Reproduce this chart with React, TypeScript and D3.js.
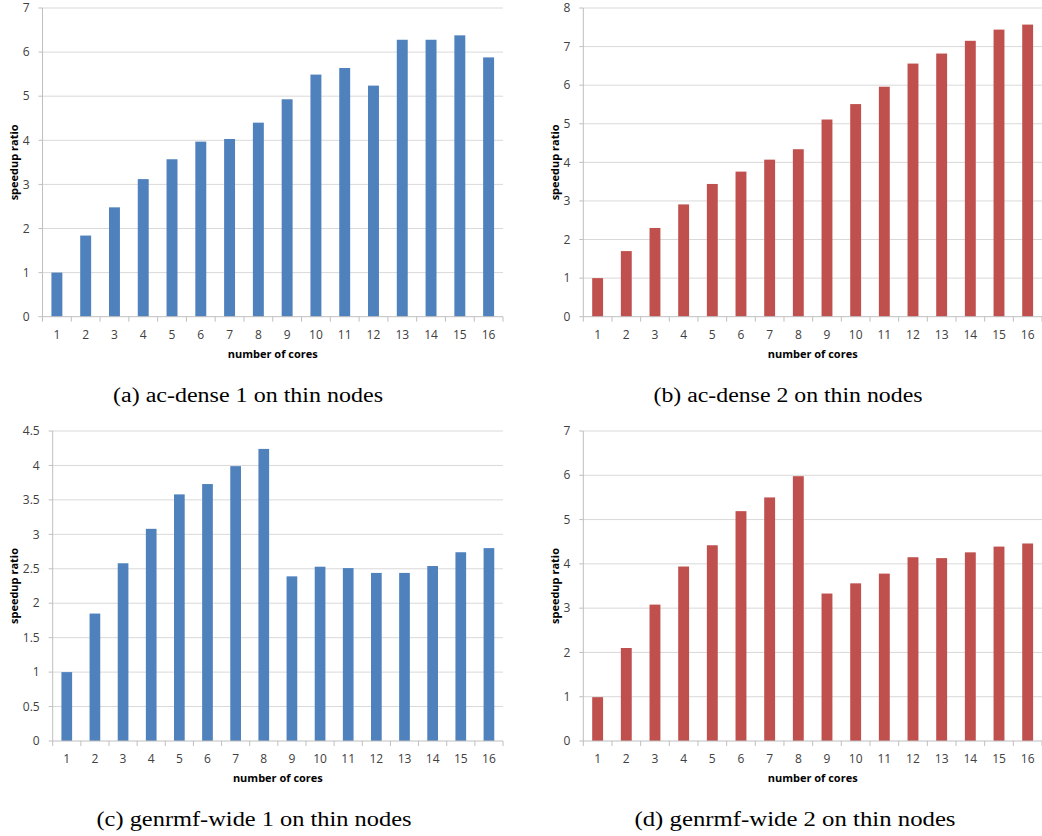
import React, {useEffect, useRef} from 'react';
import * as d3 from 'd3';

const cores = ['1', '2', '3', '4', '5', '6', '7', '8', '9', '10', '11', '12', '13', '14', '15', '16'];

const acDense1 = [1.0, 1.84, 2.48, 3.12, 3.57, 3.97, 4.03, 4.4, 4.93, 5.49, 5.64, 5.24, 6.28, 6.28, 6.38, 5.88];
const acDense2 = [1.0, 1.7, 2.3, 2.91, 3.44, 3.76, 4.07, 4.34, 5.11, 5.51, 5.96, 6.56, 6.82, 7.15, 7.44, 7.57];
const genrmf1 = [1.0, 1.85, 2.58, 3.08, 3.58, 3.73, 3.99, 4.24, 2.39, 2.53, 2.51, 2.44, 2.44, 2.54, 2.74, 2.8];
const genrmf2 = [0.99, 2.1, 3.08, 3.94, 4.42, 5.19, 5.5, 5.98, 3.33, 3.56, 3.78, 4.15, 4.13, 4.26, 4.39, 4.46];

const yTicksA = [0, 1, 2, 3, 4, 5, 6, 7];
const yTicksB = [0, 1, 2, 3, 4, 5, 6, 7, 8];
const yTicksC = [0, 0.5, 1, 1.5, 2, 2.5, 3, 3.5, 4, 4.5];
const yTicksD = [0, 1, 2, 3, 4, 5, 6, 7];

const captions = [
  '(a) ac-dense 1 on thin nodes',
  '(b) ac-dense 2 on thin nodes',
  '(c) genrmf-wide 1 on thin nodes',
  '(d) genrmf-wide 2 on thin nodes',
];

const BLUE = '#4f81bd';
const RED = '#c0504d';

const panels = [
  {values: acDense1, ticks: yTicksA, color: BLUE, left: 42.5, right: 503, top: 8, bottom: 316.7, titleX: 14, caption: captions[0], capX: 248, capY: 402, capW: 270},
  {values: acDense2, ticks: yTicksB, color: RED, left: 583.3, right: 1042, top: 8, bottom: 316.7, titleX: 555, caption: captions[1], capX: 788, capY: 402, capW: 269},
  {values: genrmf1, ticks: yTicksC, color: BLUE, left: 52.7, right: 503, top: 431, bottom: 741, titleX: 14, caption: captions[2], capX: 254, capY: 826, capW: 315},
  {values: genrmf2, ticks: yTicksD, color: RED, left: 583.3, right: 1042, top: 431, bottom: 741, titleX: 555, caption: captions[3], capX: 795, capY: 826, capW: 321},
];

export default function App() {
  const ref = useRef<SVGSVGElement>(null);

  useEffect(() => {
    const svg = d3.select(ref.current);
    svg.selectAll('*').remove();
    const font = 'Open Sans, Liberation Sans, sans-serif';

    panels.forEach((p) => {
      const g = svg.append('g');
      const x = d3.scaleBand().domain(cores).range([p.left, p.right]).paddingInner(0.62).paddingOuter(0.31);
      const y = d3.scaleLinear().domain([0, p.ticks[p.ticks.length - 1]]).range([p.bottom, p.top]);

      // gridlines
      g.selectAll('.grid')
        .data(p.ticks.slice(1))
        .enter().append('line')
        .attr('x1', p.left).attr('x2', p.right)
        .attr('y1', (d) => y(d)).attr('y2', (d) => y(d))
        .attr('stroke', '#d9d9d9').attr('stroke-width', 1);

      // y tick labels
      g.selectAll('.ylab')
        .data(p.ticks)
        .enter().append('text')
        .attr('x', p.left - 13)
        .attr('y', (d) => y(d))
        .attr('dy', '0.35em')
        .attr('text-anchor', 'end')
        .attr('font-family', font).attr('font-size', 12).attr('fill', '#404040')
        .text((d) => String(d));

      // y axis
      g.append('line')
        .attr('x1', p.left).attr('x2', p.left)
        .attr('y1', p.top).attr('y2', p.bottom)
        .attr('stroke', '#bfbfbf');
      g.selectAll('.ytick')
        .data(p.ticks)
        .enter().append('line')
        .attr('x1', p.left - 4).attr('x2', p.left)
        .attr('y1', (d) => y(d)).attr('y2', (d) => y(d))
        .attr('stroke', '#bfbfbf');

      // bars
      g.selectAll('.bar')
        .data(p.values)
        .enter().append('rect')
        .attr('x', (d, i) => x(cores[i]) as number)
        .attr('y', (d) => y(d))
        .attr('width', x.bandwidth())
        .attr('height', (d) => p.bottom - y(d))
        .attr('fill', p.color);

      // x axis
      g.append('line')
        .attr('x1', p.left).attr('x2', p.right)
        .attr('y1', p.bottom).attr('y2', p.bottom)
        .attr('stroke', '#bfbfbf');
      const step = x.step();
      g.selectAll('.xtick')
        .data(d3.range(cores.length + 1))
        .enter().append('line')
        .attr('x1', (i) => p.left + i * step).attr('x2', (i) => p.left + i * step)
        .attr('y1', p.bottom).attr('y2', p.bottom + 5)
        .attr('stroke', '#bfbfbf');
      g.selectAll('.xlab')
        .data(cores)
        .enter().append('text')
        .attr('x', (d) => (x(d) as number) + x.bandwidth() / 2)
        .attr('y', p.bottom + 18)
        .attr('dy', '0.35em')
        .attr('text-anchor', 'middle')
        .attr('font-family', font).attr('font-size', 12).attr('fill', '#404040')
        .text((d) => d);

      // axis titles
      g.append('text')
        .attr('x', (p.left + p.right) / 2)
        .attr('y', p.bottom + 37)
        .attr('dy', '0.35em')
        .attr('text-anchor', 'middle')
        .attr('font-family', font).attr('font-size', 11).attr('font-weight', 'bold').attr('fill', '#000')
        .text('number of cores');
      g.append('text')
        .attr('transform', 'translate(' + p.titleX + ',' + (p.top + p.bottom) / 2 + ') rotate(-90)')
        .attr('dy', '0.35em')
        .attr('text-anchor', 'middle')
        .attr('font-family', font).attr('font-size', 11).attr('font-weight', 'bold').attr('fill', '#000')
        .text('speedup ratio');

      // caption
      g.append('text')
        .attr('x', p.capX)
        .attr('y', p.capY)
        .attr('text-anchor', 'middle')
        .attr('textLength', p.capW)
        .attr('lengthAdjust', 'spacingAndGlyphs')
        .attr('font-family', 'Liberation Serif, serif').attr('font-size', 20).attr('fill', '#000')
        .text(p.caption);
    });
  }, []);

  return (
    <svg ref={ref} width={1042} height={836}
         style={{position: 'absolute', left: 0, top: 0, background: '#fff'}}/>
  );
}
